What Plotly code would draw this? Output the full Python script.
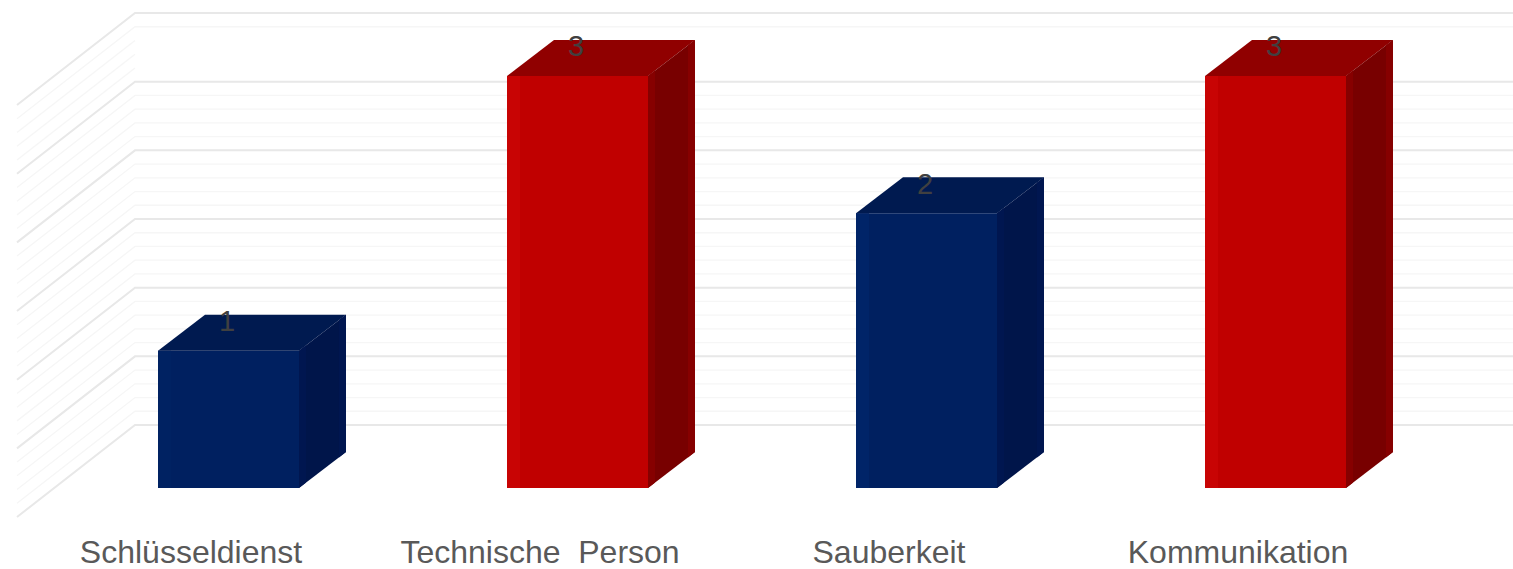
import plotly.graph_objects as go

categories = ["Schlüsseldienst", "Technische\u00a0\u00a0Person", "Sauberkeit", "Kommunikation"]
values = [1, 3, 2, 3]
front_colors = ["#002060", "#c00000", "#002060", "#c00000"]
strip_colors = ["#002262", "#c80404", "#002468", "#c80404"]
top_colors = ["#001a50", "#900000", "#001a50", "#900000"]
side_colors = ["#00154a", "#780000", "#00154a", "#780000"]
side_edge_colors = ["#001650", "#860000", "#001650", "#860000"]
grid_major = [0, 0.5, 1, 1.5, 2, 2.5, 3]
grid_minor = [0.1, 0.2, 0.3, 0.4, 0.6, 0.7, 0.8, 0.9, 1.1, 1.2, 1.3, 1.4, 1.6, 1.7, 1.8, 1.9,
              2.1, 2.2, 2.3, 2.4, 2.9]
grid_side_only = [2.6, 2.7, 2.8]

W, H = 1513, 569
BOTTOM = 37
PX_CAT = 349.0      # pixels per category
PX_VAL = 137.33     # pixels per unit
X_RANGE = [-228.5 / PX_CAT, (W - 228.5) / PX_CAT]
Y_RANGE = [(488 - (H - BOTTOM)) / PX_VAL, 488 / PX_VAL]
BAR_W = 141 / PX_CAT
STRIP_W = 13 / PX_CAT
EDGE = 0.15
DX, DV = 47 / PX_CAT, 36 / PX_VAL           # bar depth
WALL_BACK_X, WALL_BACK_V = (135 - 228.5) / PX_CAT, (488 - 425) / PX_VAL
WALL_DX, WALL_DV = -118 / PX_CAT, -92 / PX_VAL
LABEL_SHIFT = -37.5 / PX_CAT
VALUE_SHIFT_X, VALUE_SHIFT_V = -1.5 / PX_CAT, 0.195


def side_path(v):
    by = WALL_BACK_V + v
    return f"M {WALL_BACK_X + WALL_DX} {by + WALL_DV} L {WALL_BACK_X} {by}"


def grid_path(v):
    return side_path(v) + f" L {X_RANGE[1]} {WALL_BACK_V + v}"


minor_line = dict(color="#f6f6f6", width=1.3)
shapes = []
for v in grid_side_only:
    shapes.append(dict(type="path", path=side_path(v), xref="x", yref="y", layer="below", line=minor_line))
for v in grid_minor:
    shapes.append(dict(type="path", path=grid_path(v), xref="x", yref="y", layer="below", line=minor_line))
for v in grid_major:
    shapes.append(dict(type="path", path=grid_path(v), xref="x", yref="y", layer="below",
                       line=dict(color="#e8e8e8", width=2)))

xs = list(range(len(categories)))
fig = go.Figure()
fig.add_trace(go.Bar(x=xs, y=values, width=BAR_W, marker=dict(color=front_colors, line=dict(width=0)),
                     hoverinfo="skip", showlegend=False))


def poly(px, py, color):
    fig.add_trace(go.Scatter(x=px + px[:1], y=py + py[:1], mode="lines", fill="toself", fillcolor=color,
                             line=dict(width=0), hoverinfo="skip", showlegend=False))


for x, v, tc, sc, ec, stc in zip(xs, values, top_colors, side_colors, side_edge_colors, strip_colors):
    x0, x1 = x - BAR_W / 2, x + BAR_W / 2
    poly([x0, x0 + STRIP_W, x0 + STRIP_W, x0], [0, 0, v, v], stc)
    poly([x0, x1, x1 + DX, x0 + DX], [v, v, v + DV, v + DV], tc)
    poly([x1, x1 + DX, x1 + DX, x1], [0, DV, v + DV, v], sc)
    poly([x1, x1 + EDGE * DX, x1 + EDGE * DX, x1], [0, EDGE * DV, v + EDGE * DV, v], ec)
    poly([x1 + (1 - EDGE) * DX, x1 + DX, x1 + DX, x1 + (1 - EDGE) * DX],
         [(1 - EDGE) * DV, DV, v + DV, v + (1 - EDGE) * DV], ec)
fig.add_trace(go.Scatter(x=[x + VALUE_SHIFT_X for x in xs], y=[v + VALUE_SHIFT_V for v in values], mode="text",
                         text=[str(v) for v in values], textposition="middle center",
                         textfont=dict(family="Liberation Sans", size=29, color="#404040"),
                         hoverinfo="skip", showlegend=False))

fig.update_layout(
    width=W, height=H, margin=dict(l=0, r=0, t=0, b=BOTTOM), autosize=False,
    paper_bgcolor="white", plot_bgcolor="white", showlegend=False, shapes=shapes,
    xaxis=dict(range=X_RANGE, tickmode="array", tickvals=[x + LABEL_SHIFT for x in xs], ticktext=categories,
               showgrid=False, zeroline=False, showline=False, ticks="", ticklen=0,
               tickangle=0, automargin=False, ticklabelstandoff=-2,
               tickfont=dict(family="Liberation Sans", size=32, color="#595959")),
    yaxis=dict(range=Y_RANGE, showgrid=False, zeroline=False, showline=False, showticklabels=False, ticks=""),
)
fig.write_html("out.html", config=dict(displayModeBar=False), post_script="document.body.style.margin='0';")
